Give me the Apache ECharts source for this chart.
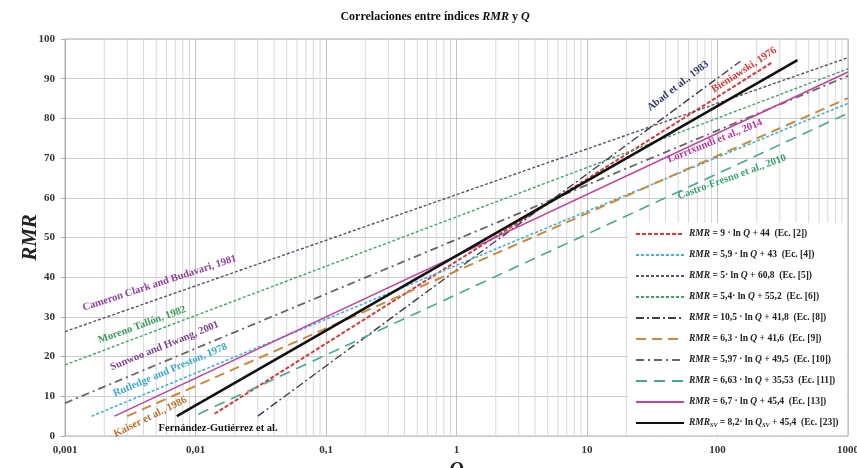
<!DOCTYPE html>
<html>
<head>
<meta charset="utf-8">
<script src="https://cdn.jsdelivr.net/npm/echarts@6/dist/echarts.min.js"></script>
<style>
  html, body { margin: 0; padding: 0; background: #fff; }
  #chart { width: 857px; height: 468px; }
</style>
</head>
<body>
<div id="chart"></div>
<script>
// series (one per correlation), straight lines on the log axis: two end points each
const seriesIds = ["Ec. [2]", "Ec. [4]", "Ec. [5]", "Ec. [6]", "Ec. [8]", "Ec. [9]", "Ec. [10]", "Ec. [11]", "Ec. [13]", "Ec. [23]"];
const qStart = [0.014, 0.0016, 0.001, 0.001, 0.03, 0.003, 0.001, 0.0105, 0.0024, 0.0072];
const rmrStart = [5.6, 5.0, 26.3, 17.9, 5.0, 5.0, 8.3, 5.5, 5.0, 5.0];
const qEnd = [265, 1000, 1000, 1000, 150, 1000, 1000, 1000, 1000, 410];
const rmrEnd = [94.2, 83.8, 95.3, 92.5, 94.4, 85.1, 90.7, 81.3, 91.7, 94.7];

const legendTexts = [
  "{i|RMR}{n| = 9 · ln }{i|Q}{n| + 44  (Ec. [2])}",
  "{i|RMR}{n| = 5,9 · ln }{i|Q}{n| + 43  (Ec. [4])}",
  "{i|RMR}{n| = 5· ln }{i|Q}{n| + 60,8  (Ec. [5])}",
  "{i|RMR}{n| = 5,4· ln }{i|Q}{n| + 55,2  (Ec. [6])}",
  "{i|RMR}{n| = 10,5 · ln }{i|Q}{n| + 41,8  (Ec. [8])}",
  "{i|RMR}{n| = 6,3 · ln }{i|Q}{n| + 41,6  (Ec. [9])}",
  "{i|RMR}{n| = 5,97 · ln }{i|Q}{n| + 49,5  (Ec. [10])}",
  "{i|RMR}{n| = 6,63 · ln }{i|Q}{n| + 35,53  (Ec. [11])}",
  "{i|RMR}{n| = 6,7 · ln }{i|Q}{n| + 45,4  (Ec. [13])}",
  "{i|RMR}{s|SV}{n| = 8,2· ln }{i|Q}{s|SV}{n| + 45,4  (Ec. [23])}"
];

const colors = ["#d8383a", "#45b0d8", "#5e4f66", "#3ea46a", "#3b3d52", "#c98a3e", "#666666", "#45a88c", "#c0449e", "#111111"];
const dashes = [[4, 2], [3, 2], [3, 2], [3, 2], [8, 3, 2, 3], [10, 6], [8, 4, 2, 4], [11, 7], "solid", "solid"];
const widths = [2, 1.6, 1.4, 1.4, 1.4, 2, 1.8, 1.6, 1.6, 2.6];

// rotated author labels, anchored at data coordinates
const labelTexts = ["Cameron Clark and Budavari, 1981", "Moreno Tallón, 1982", "Sunwoo and Hwang, 2001", "Rutledge and Preston, 1978", "Kaiser et al., 1986", "Fernández-Gutiérrez et al.", "Abad et al., 1983", "Bieniawski, 1976", "Lorrtxundi et al., 2014", "Castro-Fresno et al., 2010"];
const labelQ = [0.0053, 0.0039, 0.0058, 0.0064, 0.0045, 0.0149, 49.8, 160, 95.7, 129];
const labelRMR = [38.5, 28.0, 22.7, 16.6, 4.8, 2.0, 88.2, 92.2, 74.3, 65.2];
const labelAngle = [18, 20, 22, 23, 26, 0, 38, 33, 22, 20];
const labelColors = ["#8e3f9c", "#3a9a5a", "#7b3f8c", "#3aa6d0", "#b8702a", "#111111", "#2f3a66", "#d03a3a", "#b8359a", "#3aa070"];

// minor vertical grid lines (2..9 in every decade)
const minorQ = [];
[0.001, 0.01, 0.1, 1, 10, 100].forEach(function (d) {
  for (let k = 2; k <= 9; k++) minorQ.push(Number((d * k).toPrecision(3)));
});
const minorData = [];
minorQ.forEach(function (q) {
  minorData.push([q, 0], [q, 100], [q, "-"]);
});

const serif = "Liberation Serif";
const chart = echarts.init(document.getElementById("chart"));

const series = [{
  type: "line",
  name: "minor grid",
  data: minorData,
  symbol: "none",
  silent: true,
  connectNulls: false,
  z: 1,
  lineStyle: { color: "#d8d8d8", width: 1 }
}];
seriesIds.forEach(function (id, i) {
  series.push({
    type: "line",
    name: id,
    showSymbol: false,
    symbol: "none",
    data: [[qStart[i], rmrStart[i]], [qEnd[i], rmrEnd[i]]],
    lineStyle: { color: colors[i], type: dashes[i], width: widths[i] },
    itemStyle: { color: colors[i] },
    z: 2
  });
});

const option = {
  animation: false,
  title: {
    text: "{n|Correlaciones entre índices }{i|RMR}{n| y }{i|Q}",
    left: 430,
    textAlign: "center",
    top: 6,
    textStyle: {
      rich: {
        n: { fontFamily: serif, fontWeight: "bold", fontSize: 12, color: "#111" },
        i: { fontFamily: serif, fontWeight: "bold", fontStyle: "italic", fontSize: 12, color: "#111" }
      }
    }
  },
  grid: {
    left: 65, right: 9, top: 39, bottom: 32,
    outerBoundsMode: "none",
    show: true, borderColor: "#b0b0b0", borderWidth: 1
  },
  xAxis: {
    type: "log",
    logBase: 10,
    min: 0.001,
    max: 1000,
    axisLine: { show: false },
    axisTick: { show: false },
    axisLabel: {
      margin: 9,
      fontFamily: serif,
      fontWeight: "bold",
      fontSize: 11,
      color: "#333",
      formatter: function (v) { return String(Number(v.toPrecision(3))).replace(".", ","); }
    },
    splitLine: { show: true, lineStyle: { color: "#c2c2c2", width: 1 } }
  },
  yAxis: {
    type: "value",
    min: 0,
    max: 100,
    interval: 10,
    axisLine: { show: true, lineStyle: { color: "#b0b0b0" } },
    axisTick: { show: true, length: 4, lineStyle: { color: "#b0b0b0" } },
    axisLabel: { margin: 10, fontFamily: serif, fontWeight: "bold", fontSize: 11, color: "#333" },
    splitLine: { show: true, lineStyle: { color: "#cccccc", width: 1 } }
  },
  legend: {
    data: seriesIds,
    orient: "vertical",
    left: 628,
    top: 223,
    z: 20,
    backgroundColor: "#ffffff",
    padding: [6, 8, 6, 7],
    itemWidth: 48,
    itemHeight: 10,
    itemGap: 11,
    itemStyle: { opacity: 0 },
    formatter: function (name) { return legendTexts[seriesIds.indexOf(name)]; },
    textStyle: {
      lineHeight: 10,
      rich: {
        n: { fontFamily: serif, fontWeight: "bold", fontSize: 9.5, color: "#222" },
        i: { fontFamily: serif, fontWeight: "bold", fontStyle: "italic", fontSize: 9.5, color: "#222" },
        s: { fontFamily: serif, fontWeight: "bold", fontStyle: "italic", fontSize: 6, color: "#222", padding: [5, 0, 0, 0] }
      }
    }
  },
  series: series
};

chart.setOption(option);

// author labels plus axis names, placed from the axes' own scales
const graphics = labelTexts.map(function (t, i) {
  const p = chart.convertToPixel({ gridIndex: 0 }, [labelQ[i], labelRMR[i]]);
  return {
    type: "text",
    x: p[0],
    y: p[1],
    rotation: labelAngle[i] * Math.PI / 180,
    z: 10,
    style: {
      text: t,
      align: "center",
      verticalAlign: "middle",
      fill: labelColors[i],
      font: "bold 10.5px '" + serif + "'"
    }
  };
});
const corner = chart.convertToPixel({ gridIndex: 0 }, [0.001, 0]);
const middle = chart.convertToPixel({ gridIndex: 0 }, [1, 50]);
graphics.push({
  type: "text",
  x: corner[0] - 34,
  y: middle[1],
  rotation: Math.PI / 2,
  style: { text: "RMR", align: "center", verticalAlign: "middle", fill: "#222", font: "italic bold 21px '" + serif + "'" }
});
graphics.push({
  type: "text",
  x: middle[0],
  y: corner[1] + 35,
  style: { text: "Q", align: "center", verticalAlign: "middle", fill: "#222", font: "italic bold 20px '" + serif + "'" }
});
chart.setOption({ graphic: graphics });
</script>
</body>
</html>
